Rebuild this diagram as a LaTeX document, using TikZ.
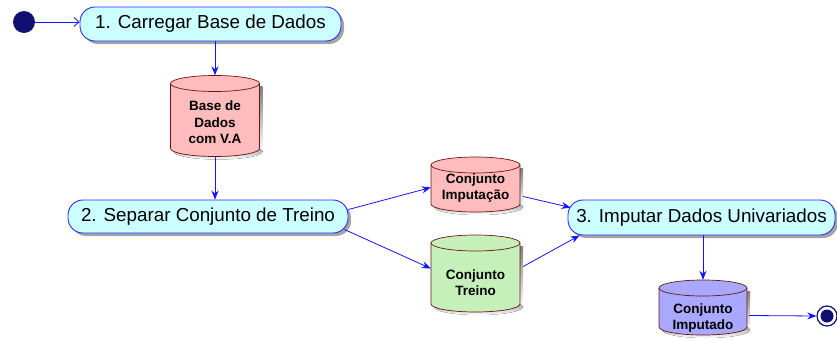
\documentclass[tikz,border=0pt]{standalone}
\usepackage{fontspec}
\setmainfont{Liberation Sans}
\usetikzlibrary{shadows,arrows.meta,calc}
\definecolor{actfill}{RGB}{204,255,255}
\definecolor{actdraw}{RGB}{40,40,255}
\definecolor{shade}{RGB}{165,165,165}
\definecolor{pinkdb}{RGB}{255,188,188}
\definecolor{greendb}{RGB}{198,240,185}
\definecolor{bluedb}{RGB}{168,168,255}
\definecolor{dbdraw}{RGB}{110,20,20}
\definecolor{navy}{RGB}{16,16,112}
\definecolor{flow}{RGB}{20,20,255}
\tikzset{
  activity/.style={rectangle, rounded corners=15pt, draw=actdraw, line width=0.9pt, fill=actfill,
    inner sep=0pt, font=\fontsize{18.8}{22}\selectfont,
    drop shadow={shadow xshift=3pt, shadow yshift=-3pt, fill=shade, opacity=1}},
  dbline/.style={draw=dbdraw, line width=0.7pt},
  dbtext/.style={rectangle, inner sep=0pt, font=\bfseries\fontsize{13.5}{16.5}\selectfont},
  flowline/.style={draw=flow, line width=0.8pt, -{Stealth[length=9pt,width=7pt]}},
  startline/.style={draw=flow, line width=0.8pt, -{Straight Barb[length=5pt,width=9pt]}}
}
% #1 name, #2 cx, #3 cy, #4 width, #5 height, #6 fill, #7 text shift, #8 text
\newcommand\dbstore[8]{%
  \fill[shade] ({#2-#4/2+3},{#3-#5/2+8+3}) rectangle ({#2+#4/2+3},{#3+#5/2-8+3});
  \fill[shade] ({#2+3},{#3+#5/2-8+3}) ellipse[x radius=#4/2, y radius=8];
  \fill[#6] ({#2-#4/2},{#3-#5/2+8}) rectangle ({#2+#4/2},{#3+#5/2-8});
  \fill[#6] (#2,{#3+#5/2-8}) ellipse[x radius=#4/2, y radius=8];
  \draw[dbline] ({#2-#4/2},{#3-#5/2+8}) -- ({#2-#4/2},{#3+#5/2-8})
     arc[start angle=180, end angle=0, x radius=#4/2, y radius=8] -- ({#2+#4/2},{#3-#5/2+8});
  \draw[dbline, fill=#6] (#2,{#3-#5/2+8}) ellipse[x radius=#4/2, y radius=8];
  \node[dbtext, minimum width=#4, minimum height=#5] (#1) at (#2,#3)
     {\raisebox{#7}[0pt][0pt]{\begin{tabular}{@{}c@{}}#8\end{tabular}}};
}
\begin{document}
\begin{tikzpicture}[x=1pt,y=-1pt]
\useasboundingbox (0,0) rectangle (837,340);
% start / end
\node[circle, fill=navy, minimum size=22pt, inner sep=0pt] (start) at (24,22) {};
\node[circle, draw=navy, fill=white, line width=1.2pt, minimum size=20pt, inner sep=0pt] (endc) at (827,316) {};
\node[circle, fill=navy, minimum size=13pt, inner sep=0pt] (endin) at (endc) {};
% activities
\node[activity, minimum width=261pt, minimum height=34pt] (n1) at (210.5,24) {1. Carregar Base de Dados};
\node[activity, minimum width=280pt, minimum height=33pt] (n2) at (208,216.5) {2. Separar Conjunto de Treino};
\node[activity, minimum width=267pt, minimum height=35pt] (n3) at (701.5,217.5) {3. Imputar Dados Univariados};
% data stores
\dbstore{db1}{215}{116}{89}{81}{pinkdb}{-11.5pt}{Base de\\Dados\\com V.A}
\dbstore{ci}{475.5}{184.5}{89}{55}{pinkdb}{-7.5pt}{Conjunto\\Imputação}
\dbstore{ct}{475.5}{273.5}{89}{77}{greendb}{-14.5pt}{Conjunto\\Treino}
\dbstore{cimp}{703}{307.5}{88}{55}{bluedb}{-14.5pt}{Conjunto\\Imputado}
% connectors
\draw[startline] (start) -- (n1.west |- start);
\draw[flowline] (n1.south -| db1.north) -- (db1.north);
\draw[flowline] (db1.south) -- (n2.north -| db1.south);
\draw[flowline] ($(n2.east)+(0,-7)$) -- ($(ci.west)+(0,3)$);
\draw[flowline] ($(n2.east)+(-4,13)$) -- ($(ct.west)+(0,-5)$);
\draw[flowline] ($(ci.east)+(3,12)$) -- ($(n3.west)+(3,-10)$);
\draw[flowline] ($(ct.east)+(3,-7)$) -- ($(n3.south west)+(12,0)$);
\draw[flowline] (n3.south -| cimp.north) -- (cimp.north);
\draw[flowline] ($(cimp.east)+(2,8)$) -- (endc.west);
\end{tikzpicture}
\end{document}
